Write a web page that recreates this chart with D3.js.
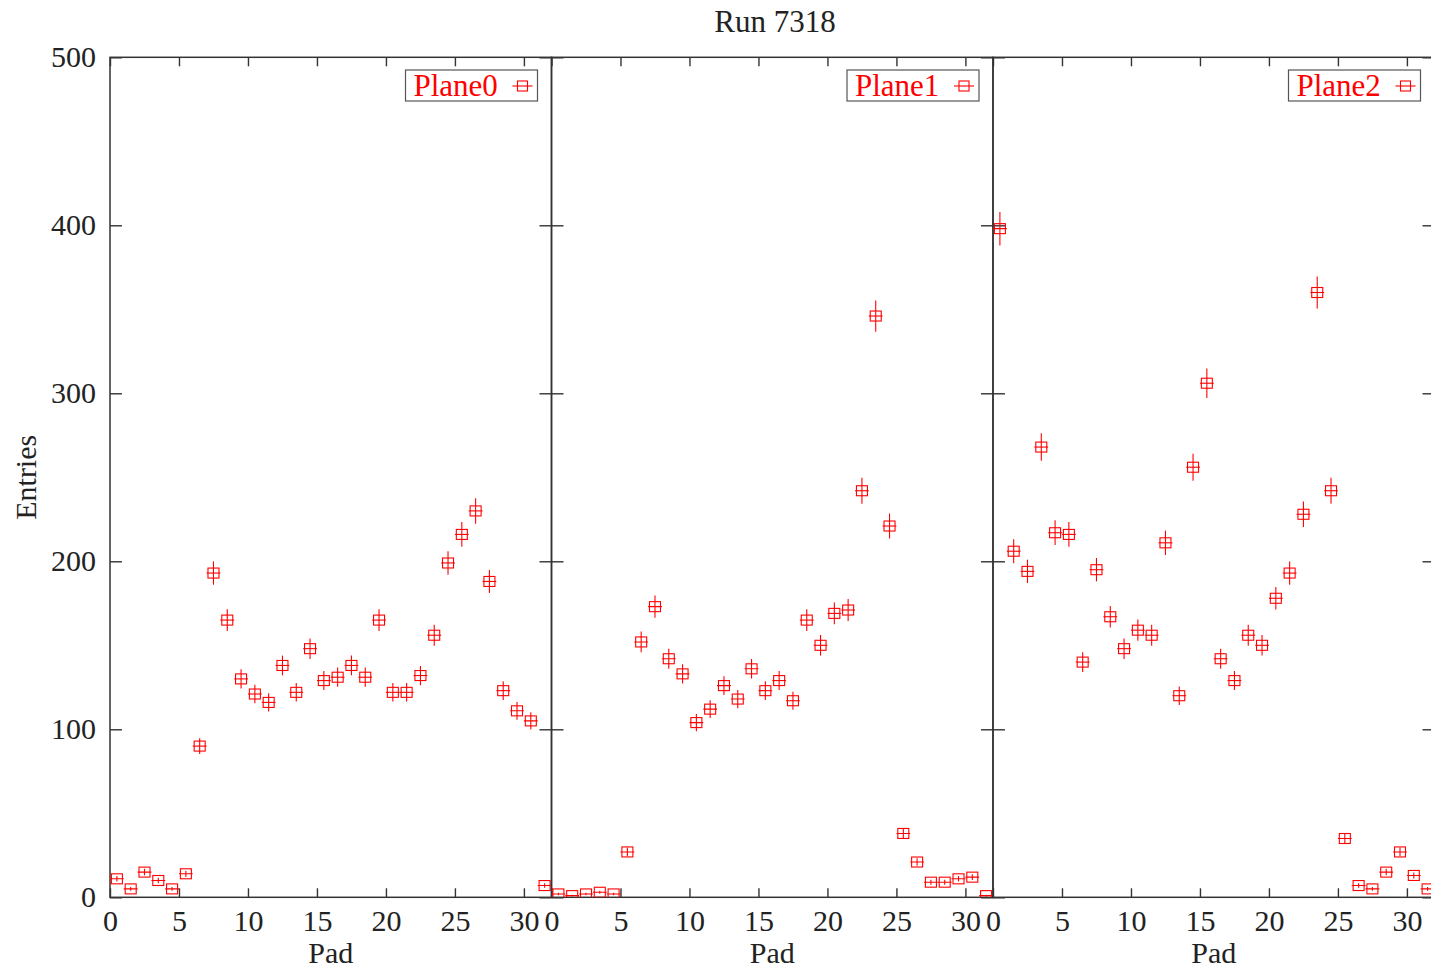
<!DOCTYPE html>
<html>
<head>
<meta charset="utf-8">
<script src="https://cdn.jsdelivr.net/npm/d3@7"></script>
<style>
  html, body { margin: 0; padding: 0; background: #fff; }
  svg { display: block; }
  text { font-family: "Liberation Serif", "Times New Roman", serif; }
</style>
</head>
<body>
<svg id="chart" width="1431" height="971"></svg>
<script>
// ---- data ----
const title = "Run 7318";
const planes = ["Plane0", "Plane1", "Plane2"];
const pads = d3.range(32);   // pad index 0..31
const plane0 = [11, 5, 15, 10, 5, 14, 90, 193, 165, 130, 121, 116, 138, 122, 148, 129,
                131, 138, 131, 165, 122, 122, 132, 156, 199, 216, 230, 188, 123, 111, 105, 7];
const plane1 = [2, 1, 2, 3, 2, 27, 152, 173, 142, 133, 104, 112, 126, 118, 136, 123,
                129, 117, 165, 150, 169, 171, 242, 346, 221, 38, 21, 9, 9, 11, 12, 1];
const plane2 = [398, 206, 194, 268, 217, 216, 140, 195, 167, 148, 159, 156, 211, 120, 256, 306,
                142, 129, 156, 150, 178, 193, 228, 360, 242, 35, 7, 5, 15, 27, 13, 5];
const series = [plane0, plane1, plane2];
const xTicks = [0, 5, 10, 15, 20, 25, 30];
const yTicks = [0, 100, 200, 300, 400, 500];
const xLabel = "Pad";
const yLabel = "Entries";

// ---- layout ----
const svg = d3.select("#chart");
const plotTop = 57.3, plotBottom = 897.3;
const left0 = 110, panelW = 441.5;
const red = "#ff0000";
const axisColor = "#333";
const fontSize = 30;

const y = d3.scaleLinear().domain([0, 500]).range([plotBottom, plotTop]);

svg.append("text")
  .attr("x", 775).attr("y", 32)
  .attr("text-anchor", "middle")
  .attr("font-size", 31)
  .attr("fill", "#222")
  .text(title);

svg.append("text")
  .attr("transform", `translate(36,${(plotTop + plotBottom) / 2}) rotate(-90)`)
  .attr("text-anchor", "middle")
  .attr("font-size", fontSize)
  .attr("fill", "#222")
  .text(yLabel);

planes.forEach((name, p) => {
  const x0 = left0 + p * panelW;
  const x1 = x0 + panelW;
  const x = d3.scaleLinear().domain([0, 32]).range([x0, x1]);
  const g = svg.append("g");
  const vals = series[p];

  const clipId = "clip" + p;
  svg.append("clipPath").attr("id", clipId)
    .append("rect").attr("x", x0).attr("y", plotTop).attr("width", panelW).attr("height", plotBottom - plotTop);

  const axB = g.append("g").attr("transform", `translate(0,${plotBottom})`)
    .call(d3.axisBottom(x).tickValues(xTicks).tickSizeInner(-9).tickSizeOuter(0).tickPadding(12)
      .tickFormat(d3.format("d")));
  const axT = g.append("g").attr("transform", `translate(0,${plotTop})`)
    .call(d3.axisTop(x).tickValues(xTicks).tickSizeInner(-9).tickSizeOuter(0).tickFormat(""));
  const axL = g.append("g").attr("transform", `translate(${x0},0)`)
    .call(d3.axisLeft(y).tickValues(yTicks).tickSizeInner(-12).tickSizeOuter(0).tickPadding(14)
      .tickFormat(p === 0 ? d3.format("d") : ""));
  const axR = g.append("g").attr("transform", `translate(${x1},0)`)
    .call(d3.axisRight(y).tickValues(yTicks).tickSizeInner(-12).tickSizeOuter(0).tickFormat(""));

  [axB, axT, axL, axR].forEach(a => {
    a.select(".domain").remove();
    a.selectAll(".tick line").attr("stroke", axisColor).attr("stroke-width", 1.4);
    a.selectAll("text").attr("font-size", fontSize).attr("fill", "#222")
      .attr("font-family", '"Liberation Serif", "Times New Roman", serif');
  });

  g.append("rect")
    .attr("x", x0).attr("y", plotTop).attr("width", panelW).attr("height", plotBottom - plotTop)
    .attr("fill", "none").attr("stroke", axisColor).attr("stroke-width", 1.5);

  svg.append("text")
    .attr("x", (x0 + x1) / 2).attr("y", 963)
    .attr("text-anchor", "middle")
    .attr("font-size", fontSize)
    .attr("fill", "#222")
    .text(xLabel);

  const m = g.append("g").attr("clip-path", `url(#${clipId})`)
    .attr("stroke", red).attr("stroke-width", 1.1).attr("fill", "none");
  const pts = m.selectAll("g.pt").data(pads).join("g").attr("class", "pt");
  pts.append("line")
    .attr("x1", d => x(d)).attr("x2", d => x(d + 1))
    .attr("y1", d => y(vals[d])).attr("y2", d => y(vals[d]));
  pts.append("line")
    .attr("x1", d => x(d + 0.5)).attr("x2", d => x(d + 0.5))
    .attr("y1", d => y(vals[d] - Math.sqrt(vals[d]) / 2))
    .attr("y2", d => y(vals[d] + Math.sqrt(vals[d]) / 2));
  pts.append("rect")
    .attr("x", d => x(d + 0.5) - 5.5).attr("y", d => y(vals[d]) - 5)
    .attr("width", 11).attr("height", 10);

  const lw = 132, lh = 31;
  const lx = x1 - 14 - lw, ly = 70;
  const lg = g.append("g");
  lg.append("rect").attr("x", lx).attr("y", ly).attr("width", lw).attr("height", lh)
    .attr("fill", "#fff").attr("stroke", "#555").attr("stroke-width", 1.2);
  lg.append("text").attr("x", lx + 8).attr("y", ly + 26)
    .attr("font-size", 31).attr("fill", red).text(name);
  const cx = lx + 117, cy = ly + 16;
  lg.append("line").attr("x1", cx - 10).attr("x2", cx + 10).attr("y1", cy).attr("y2", cy)
    .attr("stroke", red).attr("stroke-width", 1.1);
  lg.append("rect").attr("x", cx - 5).attr("y", cy - 5).attr("width", 10).attr("height", 10)
    .attr("fill", "none").attr("stroke", red).attr("stroke-width", 1.1);
});
</script>
</body>
</html>
